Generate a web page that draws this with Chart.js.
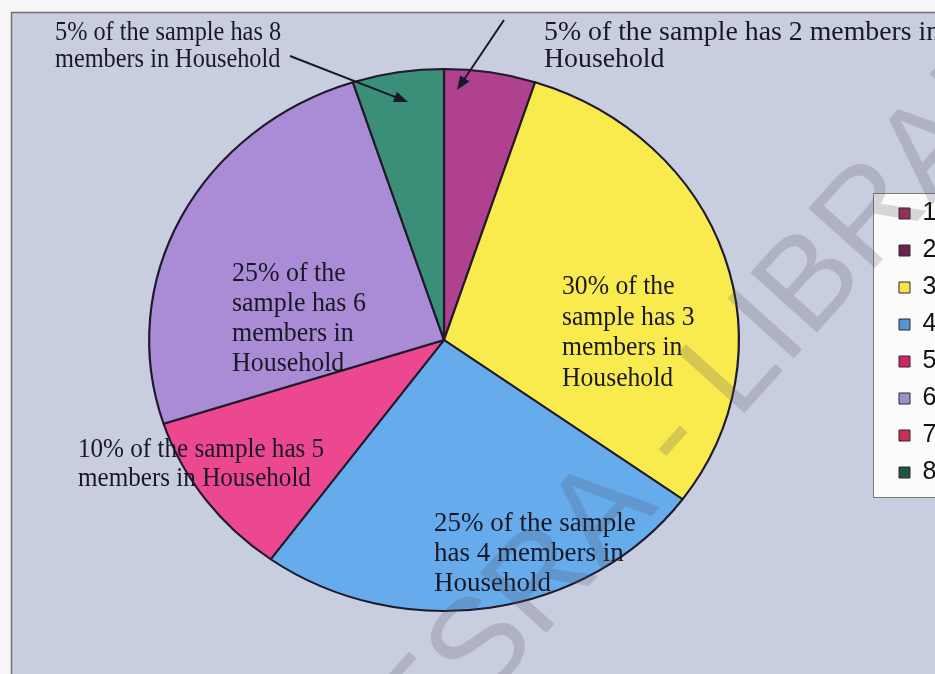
<!DOCTYPE html>
<html>
<head>
<meta charset="utf-8">
<title>Household size</title>
<script src="https://cdn.jsdelivr.net/npm/chart.js@4.4.1/dist/chart.umd.min.js"></script>
<style>
    html, body { margin: 0; padding: 0; background: #f6f6f6; overflow: hidden; }
    #chartCanvas { position: absolute; left: 0; top: 0; }
</style>
</head>
<body>
<canvas id="chartCanvas" width="935" height="674"></canvas>
<script>
// Data: share of the sample by number of household members
const categories = ['1', '2', '3', '4', '5', '6', '7', '8'];
const shares = [0, 5, 30, 25, 10, 25, 0, 5];

// Callout text for each slice (lines)
const noteTwo = ['5% of the sample has 2 members in', 'Household'];
const noteThree = ['30% of the', 'sample has 3', 'members in', 'Household'];
const noteFour = ['25% of the sample', 'has 4 members in', 'Household'];
const noteFive = ['10% of the sample has 5', 'members in Household'];
const noteSix = ['25% of the', 'sample has 6', 'members in', 'Household'];
const noteEight = ['5% of the sample has 8', 'members in Household'];
const watermark = 'ESRA - LIBRARY';

// Colours
const sliceColors = ['#a8365f', '#b0418e', '#f9ea4e', '#66abec', '#ec4890', '#a98bd6', '#d03058', '#3b8f79'];
const legendColors = ['#a02a58', '#70204f', '#f3e548', '#5694d6', '#d0256a', '#9a92cc', '#cc2c55', '#1f5443'];

// Pie geometry (page pixels)
const pieCenterX = 444;
const pieCenterY = 340;
const pieRadius = 272;
const stretchX = 1.088;

// draw a block of lines, squeezed or widened horizontally by sx
function drawLines(ctx, lines, x, y, step, sx) {
    ctx.save();
    ctx.translate(x, y);
    ctx.scale(sx, 1);
    lines.forEach((line, i) => ctx.fillText(line, 0, i * step));
    ctx.restore();
}

function drawArrow(ctx, x1, y1, x2, y2) {
    const ang = Math.atan2(y2 - y1, x2 - x1);
    const len = 14, half = 5.5;
    ctx.beginPath();
    ctx.moveTo(x1, y1);
    ctx.lineTo(x2 - Math.cos(ang) * len * 0.8, y2 - Math.sin(ang) * len * 0.8);
    ctx.stroke();
    ctx.beginPath();
    ctx.moveTo(x2, y2);
    ctx.lineTo(x2 - Math.cos(ang) * len + Math.sin(ang) * half, y2 - Math.sin(ang) * len - Math.cos(ang) * half);
    ctx.lineTo(x2 - Math.cos(ang) * len - Math.sin(ang) * half, y2 - Math.sin(ang) * len + Math.cos(ang) * half);
    ctx.closePath();
    ctx.fill();
}

const framePlugin = {
    id: 'frame',
    afterLayout(chart) {
        // fixed pie box and legend spot, as in the original sheet
        chart.chartArea = {
            left: pieCenterX - pieRadius, top: pieCenterY - pieRadius,
            right: pieCenterX + pieRadius, bottom: pieCenterY + pieRadius,
            width: pieRadius * 2, height: pieRadius * 2
        };
        const lg = chart.legend;
        lg.left = 887;
        lg.right = lg.left + lg.width;
        lg.top = 189;
        lg.bottom = lg.top + lg.height;
    },
    beforeDraw(chart) {
        const ctx = chart.ctx;
        ctx.save();
        ctx.fillStyle = '#f6f6f6';
        ctx.fillRect(0, 0, chart.width, chart.height);
        ctx.fillStyle = '#c9cde0';
        ctx.fillRect(11, 12, chart.width, chart.height);
        ctx.strokeStyle = '#707078';
        ctx.lineWidth = 1.5;
        ctx.strokeRect(11.5, 12.5, chart.width + 20, chart.height + 20);
        // legend frame
        ctx.fillStyle = '#fbfbfb';
        ctx.fillRect(873, 193, 100, 304);
        ctx.strokeStyle = '#7a7a7a';
        ctx.lineWidth = 1;
        ctx.strokeRect(873.5, 193.5, 100, 304);
        ctx.restore();
    },
    beforeDatasetsDraw(chart) {
        const ctx = chart.ctx;
        ctx.save();
        ctx.translate(pieCenterX, pieCenterY);
        ctx.scale(stretchX, 1);
        ctx.translate(-pieCenterX, -pieCenterY);
    },
    afterDatasetsDraw(chart) {
        const ctx = chart.ctx;
        ctx.restore();
        ctx.save();
        ctx.fillStyle = '#1a1826';
        ctx.font = '27px "Liberation Serif", "Times New Roman", serif';
        ctx.textBaseline = 'alphabetic';
        drawLines(ctx, noteEight, 55, 40, 27, 0.9);
        drawLines(ctx, noteTwo, 544, 40, 27, 1.03);
        drawLines(ctx, noteSix, 232, 281, 30, 0.96);
        drawLines(ctx, noteThree, 562, 294, 30.5, 0.95);
        drawLines(ctx, noteFive, 78, 457, 29, 0.93);
        drawLines(ctx, noteFour, 434, 531, 30, 1.0);
        ctx.strokeStyle = '#1a1826';
        ctx.lineWidth = 2;
        drawArrow(ctx, 504, 20, 457, 90);
        drawArrow(ctx, 290, 56, 408, 102);
        ctx.restore();
    },
    afterDraw(chart) {
        const ctx = chart.ctx;
        ctx.save();
        ctx.font = '130px "Liberation Sans", Arial, sans-serif';
        ctx.fillStyle = 'rgba(80, 80, 96, 0.22)';
        ctx.textBaseline = 'middle';
        const dash = watermark.indexOf('-');
        const off = ctx.measureText(watermark.slice(0, dash)).width + ctx.measureText('-').width / 2;
        ctx.translate(672, 440);
        ctx.rotate(-48 * Math.PI / 180);
        ctx.fillText(watermark, -off, 0);
        ctx.restore();
    }
};

const ctx = document.getElementById('chartCanvas').getContext('2d');
const chart = new Chart(ctx, {
    type: 'pie',
    data: {
        labels: categories,
        datasets: [{
            data: shares,
            backgroundColor: sliceColors,
            borderColor: '#1e1a2a',
            borderWidth: 2,
            clip: false
        }]
    },
    options: {
        responsive: false,
        animation: false,
        layout: { padding: 0 },
        plugins: {
            tooltip: { enabled: false },
            title: { display: false },
            legend: {
                display: true,
                position: 'right',
                align: 'start',
                labels: {
                    boxWidth: 11,
                    boxHeight: 11,
                    padding: 12,
                    color: '#111111',
                    font: { family: '"Liberation Sans", Arial, sans-serif', size: 25 },
                    generateLabels: () => categories.map((c, i) => ({
                        text: c,
                        fillStyle: legendColors[i],
                        strokeStyle: '#2a2a2a',
                        lineWidth: 1,
                        hidden: false,
                        index: i,
                        fontColor: '#111111'
                    }))
                }
            }
        }
    },
    plugins: [framePlugin]
});
</script>
</body>
</html>
